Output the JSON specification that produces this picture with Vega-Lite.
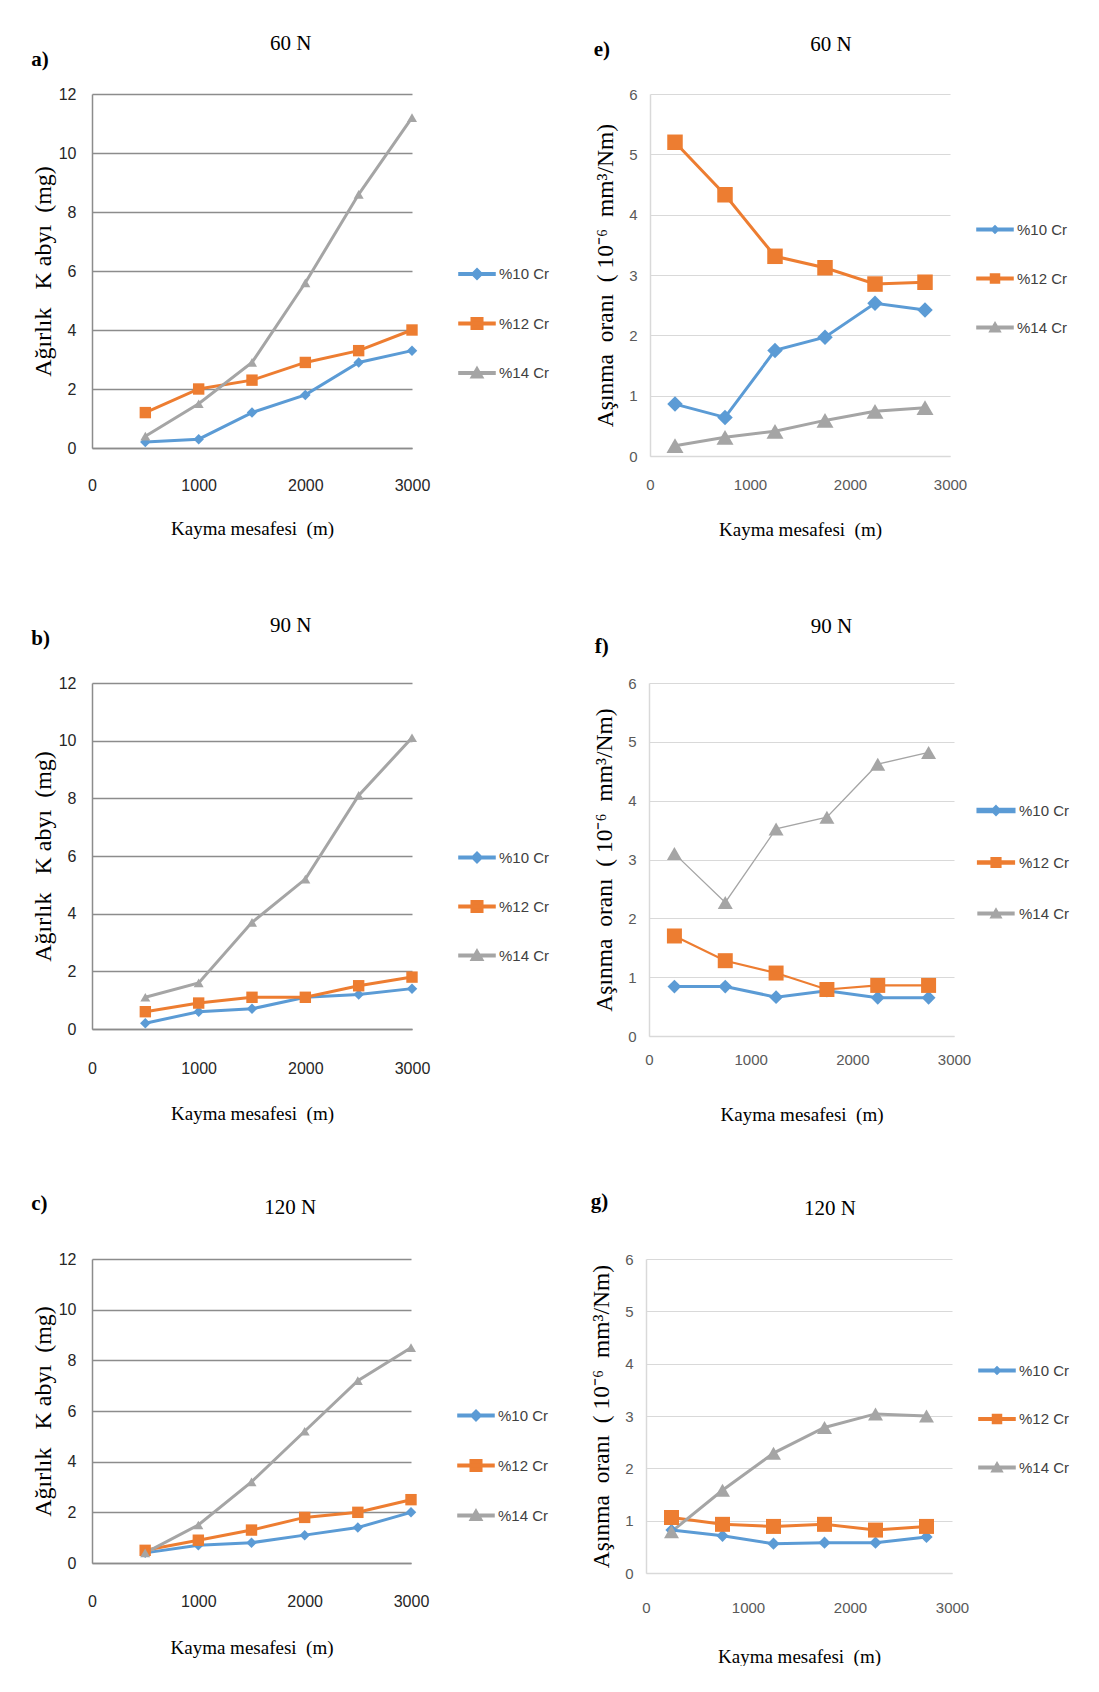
{
  "$schema": "https://vega.github.io/schema/vega-lite/v6.json",
  "background": "white",
  "padding": {"left": 31, "top": 33, "right": 0, "bottom": 0},
  "config": {
    "view": {"stroke": null},
    "font": "Liberation Sans",
    "title": {"font": "Liberation Serif", "color": "#000000"},
    "axis": {"ticks": false, "labelFont": "Liberation Sans", "titleFont": "Liberation Serif", "titleFontWeight": "normal", "titleColor": "#000000", "labelFlush": false, "labelOverlap": false}
  },
  "datasets": {
    "d": [
      {"p": "a", "s": "%10 Cr", "x": 500, "y": 0.2}, {"p": "a", "s": "%10 Cr", "x": 1000, "y": 0.3}, {"p": "a", "s": "%10 Cr", "x": 1500, "y": 1.2}, {"p": "a", "s": "%10 Cr", "x": 2000, "y": 1.8}, {"p": "a", "s": "%10 Cr", "x": 2500, "y": 2.9}, {"p": "a", "s": "%10 Cr", "x": 3000, "y": 3.3},
      {"p": "a", "s": "%12 Cr", "x": 500, "y": 1.2}, {"p": "a", "s": "%12 Cr", "x": 1000, "y": 2.0}, {"p": "a", "s": "%12 Cr", "x": 1500, "y": 2.3}, {"p": "a", "s": "%12 Cr", "x": 2000, "y": 2.9}, {"p": "a", "s": "%12 Cr", "x": 2500, "y": 3.3}, {"p": "a", "s": "%12 Cr", "x": 3000, "y": 4.0},
      {"p": "a", "s": "%14 Cr", "x": 500, "y": 0.4}, {"p": "a", "s": "%14 Cr", "x": 1000, "y": 1.5}, {"p": "a", "s": "%14 Cr", "x": 1500, "y": 2.9}, {"p": "a", "s": "%14 Cr", "x": 2000, "y": 5.6}, {"p": "a", "s": "%14 Cr", "x": 2500, "y": 8.6}, {"p": "a", "s": "%14 Cr", "x": 3000, "y": 11.2},
      {"p": "b", "s": "%10 Cr", "x": 500, "y": 0.2}, {"p": "b", "s": "%10 Cr", "x": 1000, "y": 0.6}, {"p": "b", "s": "%10 Cr", "x": 1500, "y": 0.7}, {"p": "b", "s": "%10 Cr", "x": 2000, "y": 1.1}, {"p": "b", "s": "%10 Cr", "x": 2500, "y": 1.2}, {"p": "b", "s": "%10 Cr", "x": 3000, "y": 1.4},
      {"p": "b", "s": "%12 Cr", "x": 500, "y": 0.6}, {"p": "b", "s": "%12 Cr", "x": 1000, "y": 0.9}, {"p": "b", "s": "%12 Cr", "x": 1500, "y": 1.1}, {"p": "b", "s": "%12 Cr", "x": 2000, "y": 1.1}, {"p": "b", "s": "%12 Cr", "x": 2500, "y": 1.5}, {"p": "b", "s": "%12 Cr", "x": 3000, "y": 1.8},
      {"p": "b", "s": "%14 Cr", "x": 500, "y": 1.1}, {"p": "b", "s": "%14 Cr", "x": 1000, "y": 1.6}, {"p": "b", "s": "%14 Cr", "x": 1500, "y": 3.7}, {"p": "b", "s": "%14 Cr", "x": 2000, "y": 5.2}, {"p": "b", "s": "%14 Cr", "x": 2500, "y": 8.1}, {"p": "b", "s": "%14 Cr", "x": 3000, "y": 10.1},
      {"p": "c", "s": "%10 Cr", "x": 500, "y": 0.4}, {"p": "c", "s": "%10 Cr", "x": 1000, "y": 0.7}, {"p": "c", "s": "%10 Cr", "x": 1500, "y": 0.8}, {"p": "c", "s": "%10 Cr", "x": 2000, "y": 1.1}, {"p": "c", "s": "%10 Cr", "x": 2500, "y": 1.4}, {"p": "c", "s": "%10 Cr", "x": 3000, "y": 2.0},
      {"p": "c", "s": "%12 Cr", "x": 500, "y": 0.5}, {"p": "c", "s": "%12 Cr", "x": 1000, "y": 0.9}, {"p": "c", "s": "%12 Cr", "x": 1500, "y": 1.3}, {"p": "c", "s": "%12 Cr", "x": 2000, "y": 1.8}, {"p": "c", "s": "%12 Cr", "x": 2500, "y": 2.0}, {"p": "c", "s": "%12 Cr", "x": 3000, "y": 2.5},
      {"p": "c", "s": "%14 Cr", "x": 500, "y": 0.4}, {"p": "c", "s": "%14 Cr", "x": 1000, "y": 1.5}, {"p": "c", "s": "%14 Cr", "x": 1500, "y": 3.2}, {"p": "c", "s": "%14 Cr", "x": 2000, "y": 5.2}, {"p": "c", "s": "%14 Cr", "x": 2500, "y": 7.2}, {"p": "c", "s": "%14 Cr", "x": 3000, "y": 8.5},
      {"p": "e", "s": "%10 Cr", "x": 250, "y": 0.86}, {"p": "e", "s": "%10 Cr", "x": 750, "y": 0.64}, {"p": "e", "s": "%10 Cr", "x": 1250, "y": 1.75}, {"p": "e", "s": "%10 Cr", "x": 1750, "y": 1.97}, {"p": "e", "s": "%10 Cr", "x": 2250, "y": 2.53}, {"p": "e", "s": "%10 Cr", "x": 2750, "y": 2.42},
      {"p": "e", "s": "%12 Cr", "x": 250, "y": 5.2}, {"p": "e", "s": "%12 Cr", "x": 750, "y": 4.33}, {"p": "e", "s": "%12 Cr", "x": 1250, "y": 3.31}, {"p": "e", "s": "%12 Cr", "x": 1750, "y": 3.12}, {"p": "e", "s": "%12 Cr", "x": 2250, "y": 2.85}, {"p": "e", "s": "%12 Cr", "x": 2750, "y": 2.88},
      {"p": "e", "s": "%14 Cr", "x": 250, "y": 0.17}, {"p": "e", "s": "%14 Cr", "x": 750, "y": 0.31}, {"p": "e", "s": "%14 Cr", "x": 1250, "y": 0.41}, {"p": "e", "s": "%14 Cr", "x": 1750, "y": 0.59}, {"p": "e", "s": "%14 Cr", "x": 2250, "y": 0.74}, {"p": "e", "s": "%14 Cr", "x": 2750, "y": 0.8},
      {"p": "f", "s": "%10 Cr", "x": 250, "y": 0.84}, {"p": "f", "s": "%10 Cr", "x": 750, "y": 0.84}, {"p": "f", "s": "%10 Cr", "x": 1250, "y": 0.66}, {"p": "f", "s": "%10 Cr", "x": 1750, "y": 0.77}, {"p": "f", "s": "%10 Cr", "x": 2250, "y": 0.65}, {"p": "f", "s": "%10 Cr", "x": 2750, "y": 0.65},
      {"p": "f", "s": "%12 Cr", "x": 250, "y": 1.7}, {"p": "f", "s": "%12 Cr", "x": 750, "y": 1.28}, {"p": "f", "s": "%12 Cr", "x": 1250, "y": 1.07}, {"p": "f", "s": "%12 Cr", "x": 1750, "y": 0.79}, {"p": "f", "s": "%12 Cr", "x": 2250, "y": 0.86}, {"p": "f", "s": "%12 Cr", "x": 2750, "y": 0.86},
      {"p": "f", "s": "%14 Cr", "x": 250, "y": 3.1}, {"p": "f", "s": "%14 Cr", "x": 750, "y": 2.27}, {"p": "f", "s": "%14 Cr", "x": 1250, "y": 3.52}, {"p": "f", "s": "%14 Cr", "x": 1750, "y": 3.72}, {"p": "f", "s": "%14 Cr", "x": 2250, "y": 4.62}, {"p": "f", "s": "%14 Cr", "x": 2750, "y": 4.82},
      {"p": "g", "s": "%10 Cr", "x": 250, "y": 0.82}, {"p": "g", "s": "%10 Cr", "x": 750, "y": 0.71}, {"p": "g", "s": "%10 Cr", "x": 1250, "y": 0.56}, {"p": "g", "s": "%10 Cr", "x": 1750, "y": 0.58}, {"p": "g", "s": "%10 Cr", "x": 2250, "y": 0.58}, {"p": "g", "s": "%10 Cr", "x": 2750, "y": 0.69},
      {"p": "g", "s": "%12 Cr", "x": 250, "y": 1.06}, {"p": "g", "s": "%12 Cr", "x": 750, "y": 0.93}, {"p": "g", "s": "%12 Cr", "x": 1250, "y": 0.89}, {"p": "g", "s": "%12 Cr", "x": 1750, "y": 0.93}, {"p": "g", "s": "%12 Cr", "x": 2250, "y": 0.82}, {"p": "g", "s": "%12 Cr", "x": 2750, "y": 0.89},
      {"p": "g", "s": "%14 Cr", "x": 250, "y": 0.79}, {"p": "g", "s": "%14 Cr", "x": 750, "y": 1.58}, {"p": "g", "s": "%14 Cr", "x": 1250, "y": 2.29}, {"p": "g", "s": "%14 Cr", "x": 1750, "y": 2.78}, {"p": "g", "s": "%14 Cr", "x": 2250, "y": 3.04}, {"p": "g", "s": "%14 Cr", "x": 2750, "y": 3.0}
    ]
  },
  "spacing": 76,
  "resolve": {"scale": {"color": "independent", "shape": "independent", "strokeWidth": "independent", "x": "independent", "y": "independent"}, "legend": {"color": "independent", "shape": "independent"}},
  "vconcat": [
    {
      "spacing": 43,
      "resolve": {"scale": {"color": "independent", "shape": "independent", "strokeWidth": "independent", "x": "independent", "y": "independent"}, "legend": {"color": "independent", "shape": "independent"}},
      "hconcat": [
        {
          "title": {"text": "a)", "anchor": "start", "offset": -37, "fontSize": 21, "fontWeight": "bold"},
          "resolve": {"scale": {"color": "independent", "shape": "independent"}, "legend": {"color": "independent", "shape": "independent"}},
          "vconcat": [{
            "title": {"text": "60 N", "frame": "bounds", "offset": 32, "fontSize": 21, "fontWeight": "normal"},
            "width": 320, "height": 354,
            "data": {"name": "d"},
            "transform": [{"filter": "datum.p === 'a'"}],
            "encoding": {
              "x": {"field": "x", "type": "quantitative", "scale": {"domain": [0, 3000], "nice": false}, "axis": {"values": [0, 1000, 2000, 3000], "format": "d", "grid": false, "domainColor": "#8C8C8C", "domainWidth": 1.5, "labelColor": "#262626", "labelFontSize": 16, "labelPadding": 29, "title": "Kayma mesafesi\u00a0 (m)", "titleFontSize": 19, "titlePadding": 26}},
              "y": {"field": "y", "type": "quantitative", "scale": {"domain": [0, 12], "nice": false}, "axis": {"values": [0, 2, 4, 6, 8, 10, 12], "gridColor": "#8C8C8C", "gridWidth": 1.5, "domainColor": "#8C8C8C", "domainWidth": 1.5, "labelColor": "#262626", "labelFontSize": 16, "labelPadding": 16, "title": "Ağırlık\u00a0\u00a0 K\u00a0abyı\u00a0\u00a0(mg)", "titleFontSize": 24, "titlePadding": 3}}
            },
            "layer": [
              {"mark": {"type": "line", "strokeWidth": 3}, "encoding": {"color": {"field": "s", "type": "nominal", "scale": {"domain": ["%10 Cr", "%12 Cr", "%14 Cr"], "range": ["#5B9BD5", "#ED7D31", "#A5A5A5"]}, "legend": {"orient": "none", "legendX": 366, "legendY": 161, "title": null, "padding": 0, "symbolSize": 1300, "rowPadding": 21.5, "labelOffset": 3, "labelFont": "Liberation Sans", "labelFontSize": 15, "labelColor": "#404040"}}}},
              {"transform": [{"filter": "datum.s === '%10 Cr'"}], "mark": {"type": "point", "shape": "diamond", "filled": true, "size": 110, "opacity": 1, "fill": "#5B9BD5"}},
              {"transform": [{"filter": "datum.s === '%12 Cr'"}], "mark": {"type": "point", "shape": "square", "filled": true, "size": 130, "opacity": 1, "fill": "#ED7D31"}},
              {"transform": [{"filter": "datum.s === '%14 Cr'"}], "mark": {"type": "point", "shape": "triangle-up", "filled": true, "size": 100, "opacity": 1, "fill": "#A5A5A5"}},
              {"mark": {"type": "point", "filled": true, "size": 1300, "opacity": 0}, "encoding": {
                "color": {"field": "s", "type": "nominal", "scale": {"domain": ["%10 Cr", "%12 Cr", "%14 Cr"], "range": ["#5B9BD5", "#ED7D31", "#A5A5A5"]}, "legend": null},
                "shape": {"field": "s", "type": "nominal", "scale": {"domain": ["%10 Cr", "%12 Cr", "%14 Cr"], "range": ["M-1,-0.07H1V0.07H-1ZM0,-0.3L0.3,0L0,0.3L-0.3,0Z", "M-1,-0.07H1V0.07H-1ZM-0.32,-0.32H0.32V0.32H-0.32Z", "M-1,-0.07H1V0.07H-1ZM0,-0.33L0.34,0.27H-0.34Z"]}, "legend": null}
              }}
            ]
          }]
        },
        {
          "title": {"text": "e)", "anchor": "start", "offset": -26, "fontSize": 21, "fontWeight": "bold"},
          "resolve": {"scale": {"color": "independent", "shape": "independent"}, "legend": {"color": "independent", "shape": "independent"}},
          "vconcat": [{
            "title": {"text": "60 N", "frame": "bounds", "offset": 32, "fontSize": 21, "fontWeight": "normal"},
            "width": 300, "height": 362,
            "data": {"name": "d"},
            "transform": [{"filter": "datum.p === 'e'"}],
            "encoding": {
              "x": {"field": "x", "type": "quantitative", "scale": {"domain": [0, 3000], "nice": false}, "axis": {"values": [0, 1000, 2000, 3000], "format": "d", "grid": false, "domainColor": "#D9D9D9", "domainWidth": 1.5, "labelColor": "#595959", "labelFontSize": 15, "labelPadding": 21, "title": "Kayma mesafesi\u00a0 (m)", "titleFontSize": 19, "titlePadding": 28}},
              "y": {"field": "y", "type": "quantitative", "scale": {"domain": [0, 6], "nice": false}, "axis": {"values": [0, 1, 2, 3, 4, 5, 6], "gridColor": "#D9D9D9", "gridWidth": 1.2, "domainColor": "#D9D9D9", "domainWidth": 1.5, "labelColor": "#595959", "labelFontSize": 15, "labelPadding": 13, "title": "Aşınma\u00a0 oranı\u00a0 (\u00a010⁻⁶\u00a0 mm³/Nm)", "titleFontSize": 23.5, "titlePadding": 11}}
            },
            "layer": [
              {"mark": {"type": "line", "strokeWidth": 3}, "encoding": {"color": {"field": "s", "type": "nominal", "scale": {"domain": ["%10 Cr", "%12 Cr", "%14 Cr"], "range": ["#5B9BD5", "#ED7D31", "#A5A5A5"]}, "legend": {"orient": "none", "legendX": 326, "legendY": 116.5, "title": null, "padding": 0, "symbolSize": 1300, "rowPadding": 22, "labelOffset": 3, "labelFont": "Liberation Sans", "labelFontSize": 15, "labelColor": "#404040"}}}},
              {"transform": [{"filter": "datum.s === '%10 Cr'"}], "mark": {"type": "point", "shape": "diamond", "filled": true, "size": 240, "opacity": 1, "fill": "#5B9BD5"}},
              {"transform": [{"filter": "datum.s === '%12 Cr'"}], "mark": {"type": "point", "shape": "square", "filled": true, "size": 240, "opacity": 1, "fill": "#ED7D31"}},
              {"transform": [{"filter": "datum.s === '%14 Cr'"}], "mark": {"type": "point", "shape": "triangle-up", "filled": true, "size": 290, "opacity": 1, "fill": "#A5A5A5"}},
              {"mark": {"type": "point", "filled": true, "size": 1300, "opacity": 0}, "encoding": {
                "color": {"field": "s", "type": "nominal", "scale": {"domain": ["%10 Cr", "%12 Cr", "%14 Cr"], "range": ["#5B9BD5", "#ED7D31", "#A5A5A5"]}, "legend": null},
                "shape": {"field": "s", "type": "nominal", "scale": {"domain": ["%10 Cr", "%12 Cr", "%14 Cr"], "range": ["M-1,-0.07H1V0.07H-1ZM0,-0.21L0.21,0L0,0.21L-0.21,0Z", "M-1,-0.07H1V0.07H-1ZM-0.25,-0.25H0.25V0.25H-0.25Z", "M-1,-0.07H1V0.07H-1ZM0,-0.28L0.3,0.24H-0.3Z"]}, "legend": null}
              }}
            ]
          }]
        }
      ]
    },
    {
      "spacing": 67,
      "resolve": {"scale": {"color": "independent", "shape": "independent", "strokeWidth": "independent", "x": "independent", "y": "independent"}, "legend": {"color": "independent", "shape": "independent"}},
      "vconcat": [
        {
          "spacing": 42,
          "resolve": {"scale": {"color": "independent", "shape": "independent", "strokeWidth": "independent", "x": "independent", "y": "independent"}, "legend": {"color": "independent", "shape": "independent"}},
          "hconcat": [
            {
              "title": {"text": "b)", "anchor": "start", "offset": -34, "fontSize": 21, "fontWeight": "bold"},
              "resolve": {"scale": {"color": "independent", "shape": "independent"}, "legend": {"color": "independent", "shape": "independent"}},
              "vconcat": [{
                "title": {"text": "90 N", "frame": "bounds", "offset": 39, "fontSize": 21, "fontWeight": "normal"},
                "width": 320, "height": 346,
                "data": {"name": "d"},
                "transform": [{"filter": "datum.p === 'b'"}],
                "encoding": {
                  "x": {"field": "x", "type": "quantitative", "scale": {"domain": [0, 3000], "nice": false}, "axis": {"values": [0, 1000, 2000, 3000], "format": "d", "grid": false, "domainColor": "#8C8C8C", "domainWidth": 1.5, "labelColor": "#262626", "labelFontSize": 16, "labelPadding": 31, "title": "Kayma mesafesi\u00a0 (m)", "titleFontSize": 19, "titlePadding": 28.5}},
                  "y": {"field": "y", "type": "quantitative", "scale": {"domain": [0, 12], "nice": false}, "axis": {"values": [0, 2, 4, 6, 8, 10, 12], "gridColor": "#8C8C8C", "gridWidth": 1.5, "domainColor": "#8C8C8C", "domainWidth": 1.5, "labelColor": "#262626", "labelFontSize": 16, "labelPadding": 16, "title": "Ağırlık\u00a0\u00a0 K\u00a0abyı\u00a0\u00a0(mg)", "titleFontSize": 24, "titlePadding": 3}}
                },
                "layer": [
                  {"mark": {"type": "line", "strokeWidth": 3}, "encoding": {"color": {"field": "s", "type": "nominal", "scale": {"domain": ["%10 Cr", "%12 Cr", "%14 Cr"], "range": ["#5B9BD5", "#ED7D31", "#A5A5A5"]}, "legend": {"orient": "none", "legendX": 366, "legendY": 155.5, "title": null, "padding": 0, "symbolSize": 1300, "rowPadding": 21, "labelOffset": 3, "labelFont": "Liberation Sans", "labelFontSize": 15, "labelColor": "#404040"}}}},
                  {"transform": [{"filter": "datum.s === '%10 Cr'"}], "mark": {"type": "point", "shape": "diamond", "filled": true, "size": 110, "opacity": 1, "fill": "#5B9BD5"}},
                  {"transform": [{"filter": "datum.s === '%12 Cr'"}], "mark": {"type": "point", "shape": "square", "filled": true, "size": 130, "opacity": 1, "fill": "#ED7D31"}},
                  {"transform": [{"filter": "datum.s === '%14 Cr'"}], "mark": {"type": "point", "shape": "triangle-up", "filled": true, "size": 100, "opacity": 1, "fill": "#A5A5A5"}},
                  {"mark": {"type": "point", "filled": true, "size": 1300, "opacity": 0}, "encoding": {
                    "color": {"field": "s", "type": "nominal", "scale": {"domain": ["%10 Cr", "%12 Cr", "%14 Cr"], "range": ["#5B9BD5", "#ED7D31", "#A5A5A5"]}, "legend": null},
                    "shape": {"field": "s", "type": "nominal", "scale": {"domain": ["%10 Cr", "%12 Cr", "%14 Cr"], "range": ["M-1,-0.07H1V0.07H-1ZM0,-0.3L0.3,0L0,0.3L-0.3,0Z", "M-1,-0.07H1V0.07H-1ZM-0.32,-0.32H0.32V0.32H-0.32Z", "M-1,-0.07H1V0.07H-1ZM0,-0.33L0.34,0.27H-0.34Z"]}, "legend": null}
                  }}
                ]
              }]
            },
            {
              "title": {"text": "f)", "anchor": "start", "offset": -41, "dx": 2, "fontSize": 21, "fontWeight": "bold"},
              "resolve": {"scale": {"color": "independent", "shape": "independent", "strokeWidth": "independent"}, "legend": {"color": "independent", "shape": "independent"}},
              "vconcat": [{
                "title": {"text": "90 N", "frame": "bounds", "offset": 39, "fontSize": 21, "fontWeight": "normal"},
                "width": 305, "height": 353,
                "data": {"name": "d"},
                "transform": [{"filter": "datum.p === 'f'"}],
                "encoding": {
                  "x": {"field": "x", "type": "quantitative", "scale": {"domain": [0, 3000], "nice": false}, "axis": {"values": [0, 1000, 2000, 3000], "format": "d", "grid": false, "domainColor": "#D9D9D9", "domainWidth": 1.5, "labelColor": "#595959", "labelFontSize": 15, "labelPadding": 16, "title": "Kayma mesafesi\u00a0 (m)", "titleFontSize": 19, "titlePadding": 38}},
                  "y": {"field": "y", "type": "quantitative", "scale": {"domain": [0, 6], "nice": false}, "axis": {"values": [0, 1, 2, 3, 4, 5, 6], "gridColor": "#D9D9D9", "gridWidth": 1.2, "domainColor": "#D9D9D9", "domainWidth": 1.5, "labelColor": "#595959", "labelFontSize": 15, "labelPadding": 13, "title": "Aşınma\u00a0 oranı\u00a0 (\u00a010⁻⁶\u00a0 mm³/Nm)", "titleFontSize": 23.5, "titlePadding": 11}}
                },
                "layer": [
                  {"mark": {"type": "line"}, "encoding": {"strokeWidth": {"field": "s", "type": "nominal", "scale": {"domain": ["%10 Cr", "%12 Cr", "%14 Cr"], "range": [3, 1.3, 3]}, "legend": null}, "color": {"field": "s", "type": "nominal", "scale": {"domain": ["%10 Cr", "%12 Cr", "%14 Cr"], "range": ["#5B9BD5", "#ED7D31", "#A5A5A5"]}, "legend": {"orient": "none", "legendX": 327, "legendY": 107.5, "title": null, "padding": 0, "symbolSize": 1300, "rowPadding": 22.5, "labelOffset": 3, "labelFont": "Liberation Sans", "labelFontSize": 15, "labelColor": "#404040"}}}},
                  {"transform": [{"filter": "datum.s === '%10 Cr'"}], "mark": {"type": "point", "shape": "diamond", "filled": true, "size": 190, "opacity": 1, "fill": "#5B9BD5"}},
                  {"transform": [{"filter": "datum.s === '%12 Cr'"}], "mark": {"type": "point", "shape": "square", "filled": true, "size": 225, "opacity": 1, "fill": "#ED7D31"}},
                  {"transform": [{"filter": "datum.s === '%14 Cr'"}], "mark": {"type": "point", "shape": "triangle-up", "filled": true, "size": 225, "opacity": 1, "fill": "#A5A5A5"}},
                  {"mark": {"type": "point", "filled": true, "size": 1300, "opacity": 0}, "encoding": {
                    "color": {"field": "s", "type": "nominal", "scale": {"domain": ["%10 Cr", "%12 Cr", "%14 Cr"], "range": ["#5B9BD5", "#ED7D31", "#A5A5A5"]}, "legend": null},
                    "shape": {"field": "s", "type": "nominal", "scale": {"domain": ["%10 Cr", "%12 Cr", "%14 Cr"], "range": ["M-1,-0.07H1V0.07H-1ZM0,-0.21L0.21,0L0,0.21L-0.21,0Z", "M-1,-0.07H1V0.07H-1ZM-0.25,-0.25H0.25V0.25H-0.25Z", "M-1,-0.07H1V0.07H-1ZM0,-0.28L0.3,0.24H-0.3Z"]}, "legend": null}
                  }}
                ]
              }]
            }
          ]
        },
        {
          "spacing": 40,
          "resolve": {"scale": {"color": "independent", "shape": "independent", "strokeWidth": "independent", "x": "independent", "y": "independent"}, "legend": {"color": "independent", "shape": "independent"}},
          "hconcat": [
            {
              "title": {"text": "c)", "anchor": "start", "offset": -17, "fontSize": 21, "fontWeight": "bold"},
              "resolve": {"scale": {"color": "independent", "shape": "independent"}, "legend": {"color": "independent", "shape": "independent"}},
              "vconcat": [{
                "title": {"text": "120 N", "frame": "bounds", "offset": 33, "fontSize": 21, "fontWeight": "normal"},
                "width": 319, "height": 304,
                "data": {"name": "d"},
                "transform": [{"filter": "datum.p === 'c'"}],
                "encoding": {
                  "x": {"field": "x", "type": "quantitative", "scale": {"domain": [0, 3000], "nice": false}, "axis": {"values": [0, 1000, 2000, 3000], "format": "d", "grid": false, "domainColor": "#8C8C8C", "domainWidth": 1.5, "labelColor": "#262626", "labelFontSize": 16, "labelPadding": 30, "title": "Kayma mesafesi\u00a0 (m)", "titleFontSize": 19, "titlePadding": 29}},
                  "y": {"field": "y", "type": "quantitative", "scale": {"domain": [0, 12], "nice": false}, "axis": {"values": [0, 2, 4, 6, 8, 10, 12], "gridColor": "#8C8C8C", "gridWidth": 1.5, "domainColor": "#8C8C8C", "domainWidth": 1.5, "labelColor": "#262626", "labelFontSize": 16, "labelPadding": 16, "title": "Ağırlık\u00a0\u00a0 K\u00a0abyı\u00a0\u00a0(mg)", "titleFontSize": 24, "titlePadding": 3}}
                },
                "layer": [
                  {"mark": {"type": "line", "strokeWidth": 3}, "encoding": {"color": {"field": "s", "type": "nominal", "scale": {"domain": ["%10 Cr", "%12 Cr", "%14 Cr"], "range": ["#5B9BD5", "#ED7D31", "#A5A5A5"]}, "legend": {"orient": "none", "legendX": 365, "legendY": 137.5, "title": null, "padding": 0, "symbolSize": 1300, "rowPadding": 22, "labelOffset": 3, "labelFont": "Liberation Sans", "labelFontSize": 15, "labelColor": "#404040"}}}},
                  {"transform": [{"filter": "datum.s === '%10 Cr'"}], "mark": {"type": "point", "shape": "diamond", "filled": true, "size": 110, "opacity": 1, "fill": "#5B9BD5"}},
                  {"transform": [{"filter": "datum.s === '%12 Cr'"}], "mark": {"type": "point", "shape": "square", "filled": true, "size": 130, "opacity": 1, "fill": "#ED7D31"}},
                  {"transform": [{"filter": "datum.s === '%14 Cr'"}], "mark": {"type": "point", "shape": "triangle-up", "filled": true, "size": 100, "opacity": 1, "fill": "#A5A5A5"}},
                  {"mark": {"type": "point", "filled": true, "size": 1300, "opacity": 0}, "encoding": {
                    "color": {"field": "s", "type": "nominal", "scale": {"domain": ["%10 Cr", "%12 Cr", "%14 Cr"], "range": ["#5B9BD5", "#ED7D31", "#A5A5A5"]}, "legend": null},
                    "shape": {"field": "s", "type": "nominal", "scale": {"domain": ["%10 Cr", "%12 Cr", "%14 Cr"], "range": ["M-1,-0.07H1V0.07H-1ZM0,-0.3L0.3,0L0,0.3L-0.3,0Z", "M-1,-0.07H1V0.07H-1ZM-0.32,-0.32H0.32V0.32H-0.32Z", "M-1,-0.07H1V0.07H-1ZM0,-0.33L0.34,0.27H-0.34Z"]}, "legend": null}
                  }}
                ]
              }]
            },
            {
              "title": {"text": "g)", "anchor": "start", "offset": -14, "dx": 1, "fontSize": 21, "fontWeight": "bold"},
              "resolve": {"scale": {"color": "independent", "shape": "independent"}, "legend": {"color": "independent", "shape": "independent"}},
              "vconcat": [{
                "title": {"text": "120 N", "frame": "bounds", "offset": 33, "fontSize": 21, "fontWeight": "normal"},
                "width": 306, "height": 314,
                "data": {"name": "d"},
                "transform": [{"filter": "datum.p === 'g'"}],
                "encoding": {
                  "x": {"field": "x", "type": "quantitative", "scale": {"domain": [0, 3000], "nice": false}, "axis": {"values": [0, 1000, 2000, 3000], "format": "d", "grid": false, "domainColor": "#D9D9D9", "domainWidth": 1.5, "labelColor": "#595959", "labelFontSize": 15, "labelPadding": 27, "title": "Kayma mesafesi\u00a0 (m)", "titleFontSize": 19, "titlePadding": 32}},
                  "y": {"field": "y", "type": "quantitative", "scale": {"domain": [0, 6], "nice": false}, "axis": {"values": [0, 1, 2, 3, 4, 5, 6], "gridColor": "#D9D9D9", "gridWidth": 1.2, "domainColor": "#D9D9D9", "domainWidth": 1.5, "labelColor": "#595959", "labelFontSize": 15, "labelPadding": 13, "title": "Aşınma\u00a0 oranı\u00a0 (\u00a010⁻⁶\u00a0 mm³/Nm)", "titleFontSize": 23.5, "titlePadding": 11}}
                },
                "layer": [
                  {"mark": {"type": "line", "strokeWidth": 3}, "encoding": {"color": {"field": "s", "type": "nominal", "scale": {"domain": ["%10 Cr", "%12 Cr", "%14 Cr"], "range": ["#5B9BD5", "#ED7D31", "#A5A5A5"]}, "legend": {"orient": "none", "legendX": 332, "legendY": 92.5, "title": null, "padding": 0, "symbolSize": 1300, "rowPadding": 21.5, "labelOffset": 3, "labelFont": "Liberation Sans", "labelFontSize": 15, "labelColor": "#404040"}}}},
                  {"transform": [{"filter": "datum.s === '%10 Cr'"}], "mark": {"type": "point", "shape": "diamond", "filled": true, "size": 150, "opacity": 1, "fill": "#5B9BD5"}},
                  {"transform": [{"filter": "datum.s === '%12 Cr'"}], "mark": {"type": "point", "shape": "square", "filled": true, "size": 225, "opacity": 1, "fill": "#ED7D31"}},
                  {"transform": [{"filter": "datum.s === '%14 Cr'"}], "mark": {"type": "point", "shape": "triangle-up", "filled": true, "size": 225, "opacity": 1, "fill": "#A5A5A5"}},
                  {"mark": {"type": "point", "filled": true, "size": 1300, "opacity": 0}, "encoding": {
                    "color": {"field": "s", "type": "nominal", "scale": {"domain": ["%10 Cr", "%12 Cr", "%14 Cr"], "range": ["#5B9BD5", "#ED7D31", "#A5A5A5"]}, "legend": null},
                    "shape": {"field": "s", "type": "nominal", "scale": {"domain": ["%10 Cr", "%12 Cr", "%14 Cr"], "range": ["M-1,-0.07H1V0.07H-1ZM0,-0.21L0.21,0L0,0.21L-0.21,0Z", "M-1,-0.07H1V0.07H-1ZM-0.25,-0.25H0.25V0.25H-0.25Z", "M-1,-0.07H1V0.07H-1ZM0,-0.28L0.3,0.24H-0.3Z"]}, "legend": null}
                  }}
                ]
              }]
            }
          ]
        }
      ]
    }
  ]
}
